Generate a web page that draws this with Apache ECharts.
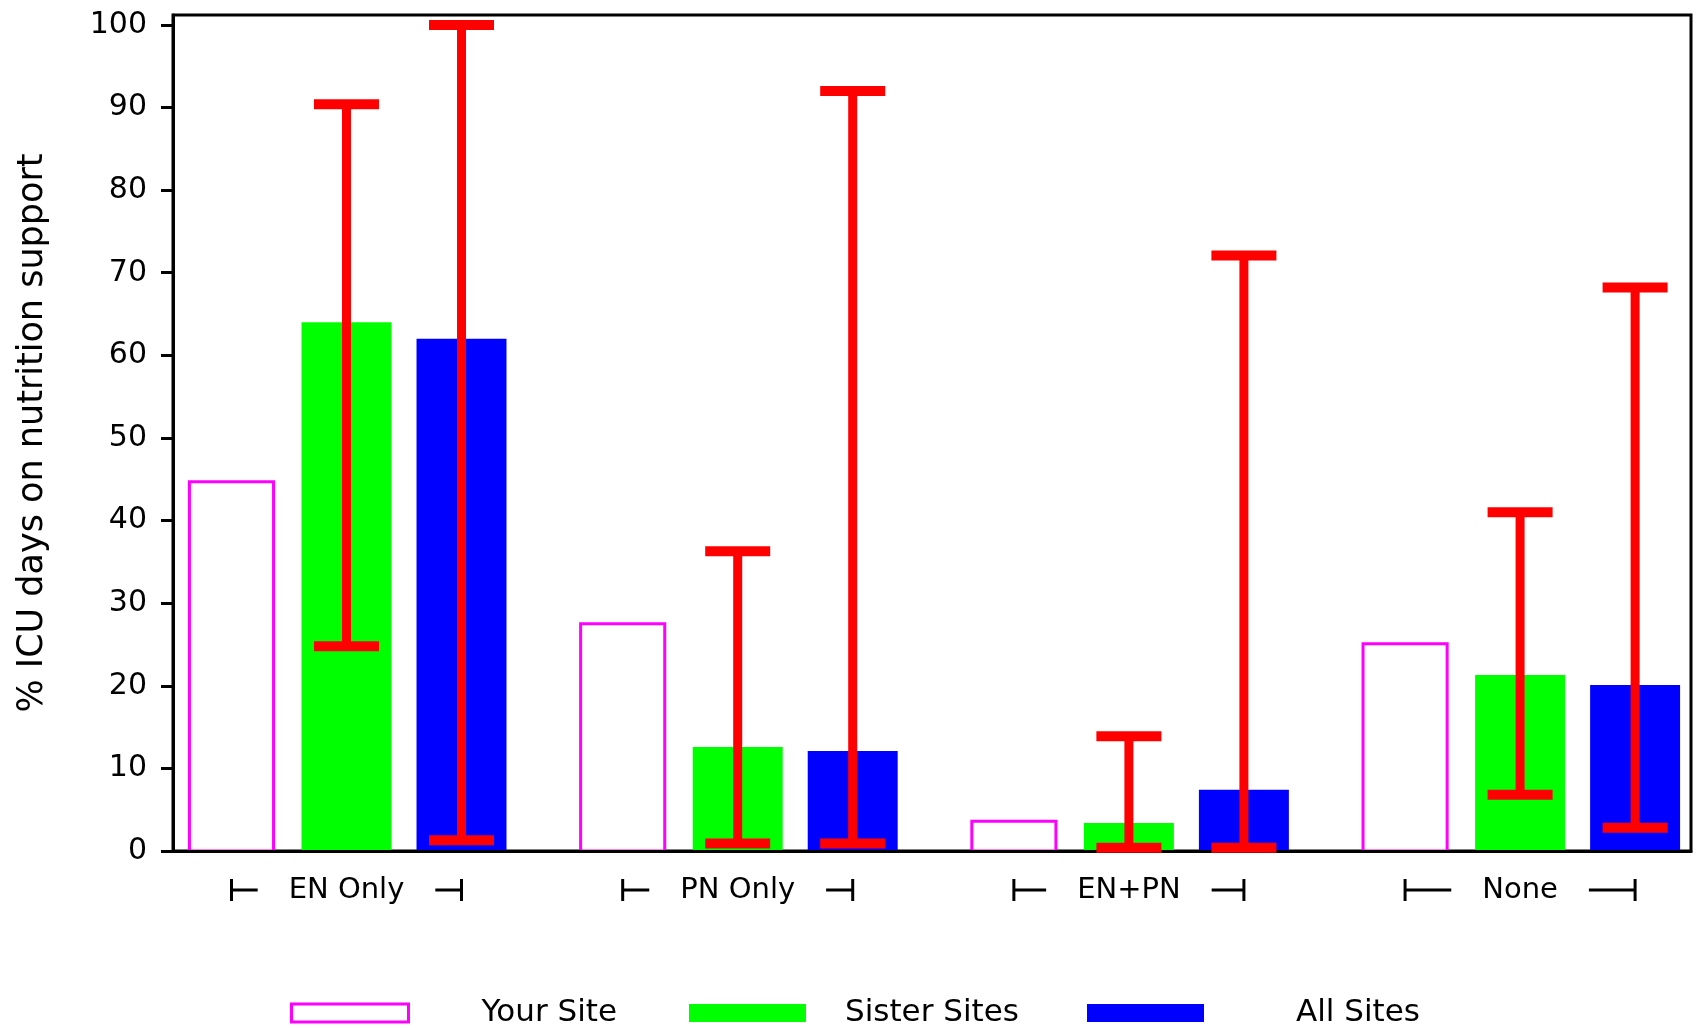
<!DOCTYPE html>
<html>
<head>
<meta charset="utf-8">
<script src="https://cdn.jsdelivr.net/npm/echarts@6/dist/echarts.min.js"></script>
<style>
  html, body { margin: 0; padding: 0; background: #ffffff; }
  #chart { width: 1696px; height: 1028px; }
</style>
</head>
<body>
<div id="chart"></div>
<script>
// Nutrition support categories and the share of ICU days (%) per site group
const categories = ['EN Only', 'PN Only', 'EN+PN', 'None'];
const yourSite = [44.7, 27.5, 3.6, 25.1];
const sisterSites = [64.0, 12.6, 3.4, 21.3];
const allSites = [62.0, 12.1, 7.4, 20.1];

// Range bars (low / high) for the comparison groups
const sisterLow = [24.8, 0.9, 0.4, 6.8];
const sisterHigh = [90.4, 36.3, 13.9, 41.0];
const allLow = [1.3, 0.9, 0.4, 2.8];
const allHigh = [100, 92.0, 72.1, 68.2];

const yTicks = [0, 10, 20, 30, 40, 50, 60, 70, 80, 90, 100];
const seriesNames = ['Your Site', 'Sister Sites', 'All Sites'];

const FONT = 'DejaVu Sans';
const AXIS_FONT = 29;
const ACCENT = { your: '#ff00ff', sister: '#00ff00', all: '#0000ff', range: '#ff0000' };

// Layout of bars inside one category band (fractions of the band width)
const SLOT_OFFSET = 0.294;
const BAR_WIDTH = 0.23;
const OUTLINE_WIDTH = 0.215;
const CAP_WIDTH = 65;
const BRACKET_HALF = 0.294;

const measureCtx = document.createElement('canvas').getContext('2d');
function textWidth(txt, size) {
  measureCtx.font = size + 'px "' + FONT + '"';
  return measureCtx.measureText(txt).width;
}

function toPoints(values) {
  return values.map((v, i) => [i, v]);
}
function toRanges(lows, highs) {
  return lows.map((lo, i) => [i, lo, highs[i]]);
}

function barRenderer(slot, style, widthFrac) {
  return function (params, api) {
    const x = api.value(0);
    const base = api.coord([x, 0]);
    const top = api.coord([x, api.value(1)]);
    const band = api.size([1, 0])[0];
    const w = widthFrac * band;
    const cx = base[0] + slot * SLOT_OFFSET * band;
    return {
      type: 'rect',
      shape: { x: cx - w / 2, y: top[1], width: w, height: base[1] - top[1] },
      style: style
    };
  };
}

function rangeRenderer(slot) {
  return function (params, api) {
    const x = api.value(0);
    const lo = api.coord([x, api.value(1)]);
    const hi = api.coord([x, api.value(2)]);
    const band = api.size([1, 0])[0];
    const cx = lo[0] + slot * SLOT_OFFSET * band;
    const st = { stroke: ACCENT.range, lineWidth: 9, lineCap: 'butt' };
    const cap = { stroke: ACCENT.range, lineWidth: 10, lineCap: 'butt' };
    return {
      type: 'group',
      children: [
        { type: 'line', shape: { x1: cx, y1: lo[1], x2: cx, y2: hi[1] }, style: st },
        { type: 'line', shape: { x1: cx - CAP_WIDTH / 2, y1: hi[1], x2: cx + CAP_WIDTH / 2, y2: hi[1] }, style: cap },
        { type: 'line', shape: { x1: cx - CAP_WIDTH / 2, y1: lo[1], x2: cx + CAP_WIDTH / 2, y2: lo[1] }, style: cap }
      ]
    };
  };
}

// Group bracket drawn around each category label: |—  label  —|
function bracketRenderer(params, api) {
  const i = api.value(0);
  const p = api.coord([i, 0]);
  const band = api.size([1, 0])[0];
  const half = BRACKET_HALF * band;
  const yb = p[1] + 39;
  const tw = textWidth(categories[i], AXIS_FONT);
  const gap = 31;
  const st = { stroke: '#000', lineWidth: 3, lineCap: 'butt' };
  const cx = p[0];
  return {
    type: 'group',
    silent: true,
    children: [
      { type: 'line', shape: { x1: cx - half, y1: yb - 11, x2: cx - half, y2: yb + 11 }, style: st },
      { type: 'line', shape: { x1: cx - half, y1: yb, x2: cx - tw / 2 - gap, y2: yb }, style: st },
      { type: 'line', shape: { x1: cx + tw / 2 + gap, y1: yb, x2: cx + half, y2: yb }, style: st },
      { type: 'line', shape: { x1: cx + half, y1: yb - 11, x2: cx + half, y2: yb + 11 }, style: st }
    ]
  };
}

// One legend block per series so each key sits at its own spot
const legendIcons = [
  { icon: 'rect', itemStyle: { color: '#ffffff', borderColor: ACCENT.your, borderWidth: 3 } },
  { icon: 'rect', itemStyle: { color: ACCENT.sister, borderWidth: 0 } },
  { icon: 'rect', itemStyle: { color: ACCENT.all, borderWidth: 0 } }
];
const legendLeft = [290, 689, 1087];
const legendTextGap = [68, 34, 87];
const legends = seriesNames.map((name, i) => ({
  left: legendLeft[i], top: 996,
  padding: 0,
  itemWidth: 117, itemHeight: 18,
  selectedMode: false,
  textStyle: { fontFamily: FONT, fontSize: 31, color: '#000', padding: [0, 0, 0, legendTextGap[i]], lineHeight: 34 },
  data: [Object.assign({ name: name }, legendIcons[i])]
}));

const chart = echarts.init(document.getElementById('chart'), null, { renderer: 'canvas' });

chart.setOption({
  animation: false,
  backgroundColor: '#ffffff',
  textStyle: { fontFamily: FONT, color: '#000' },
  grid: {
    left: 173, right: 5, top: 15, bottom: 177,
    show: true, borderColor: '#000', borderWidth: 3, backgroundColor: 'transparent'
  },
  legend: legends,
  xAxis: {
    type: 'value',
    min: -0.4435,
    max: 3.4369,
    z: 3,
    splitLine: { show: false },
    axisTick: { show: false },
    axisLine: { show: true, onZero: false, lineStyle: { color: '#000', width: 3 } },
    axisLabel: {
      customValues: categories.map((c, i) => i),
      formatter: v => (Number.isInteger(v) && categories[v] !== undefined) ? categories[v] : '',
      fontSize: AXIS_FONT, fontFamily: FONT, color: '#000', margin: 25
    }
  },
  yAxis: {
    type: 'value',
    min: 0,
    max: 101.2,
    z: 3,
    name: '% ICU days on nutrition support',
    nameLocation: 'middle',
    nameGap: 123,
    nameTextStyle: { fontSize: 35, fontFamily: FONT, color: '#000' },
    splitLine: { show: false },
    axisLine: { show: true, onZero: false, lineStyle: { color: '#000', width: 3 } },
    axisTick: { show: true, customValues: yTicks, length: 12, lineStyle: { color: '#000', width: 3 } },
    axisLabel: {
      customValues: yTicks,
      formatter: v => (yTicks.indexOf(v) >= 0 ? String(v) : ''),
      fontSize: 30, fontFamily: FONT, color: '#000', margin: 26
    }
  },
  series: [
    {
      name: seriesNames[0], type: 'custom', z: 2,
      renderItem: barRenderer(-1, { fill: '#ffffff', stroke: ACCENT.your, lineWidth: 3 }, OUTLINE_WIDTH),
      data: toPoints(yourSite)
    },
    {
      name: seriesNames[1], type: 'custom', z: 2,
      renderItem: barRenderer(0, { fill: ACCENT.sister }, BAR_WIDTH),
      data: toPoints(sisterSites)
    },
    {
      name: seriesNames[2], type: 'custom', z: 2,
      renderItem: barRenderer(1, { fill: ACCENT.all }, BAR_WIDTH),
      data: toPoints(allSites)
    },
    {
      name: seriesNames[1], type: 'custom', z: 5,
      renderItem: rangeRenderer(0),
      data: toRanges(sisterLow, sisterHigh)
    },
    {
      name: seriesNames[2], type: 'custom', z: 5,
      renderItem: rangeRenderer(1),
      data: toRanges(allLow, allHigh)
    },
    {
      name: 'brackets', type: 'custom', z: 5, silent: true,
      renderItem: bracketRenderer,
      data: categories.map((c, i) => [i, 0])
    }
  ]
});
</script>
</body>
</html>
